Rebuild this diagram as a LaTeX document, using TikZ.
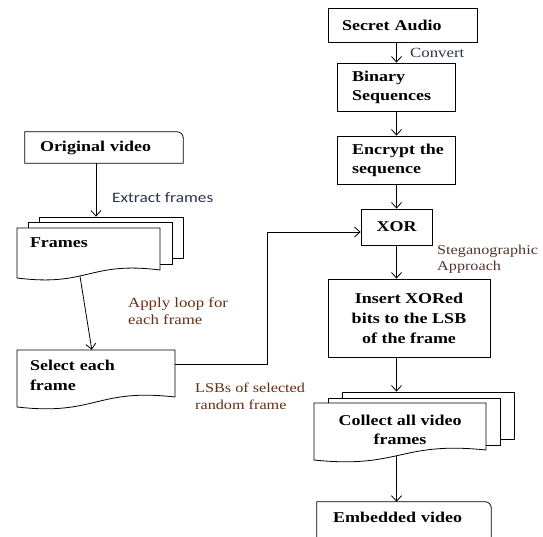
\documentclass[tikz,border=0pt]{standalone}
\usepackage{fontspec}
\setmainfont{Liberation Serif}[FakeStretch=1.2]
\newfontfamily\calib{Carlito}[FakeStretch=1.2]
\usetikzlibrary{arrows.meta}
\definecolor{lblbrown}{RGB}{105,45,20}
\definecolor{lblnavy}{RGB}{45,52,80}
\definecolor{stegc}{RGB}{85,50,45}
\newcommand\docsheet[5]{\draw[line,fill=white] (#1,#2) -- (#3,#2) -- (#3,#4) .. controls ({(#1+#3)/2},{#4-9}) and ({(#1+#3)/2},{#5+9}) .. (#1,#5) -- cycle;}
\begin{document}
\begin{tikzpicture}[x=1pt,y=-1pt,
  line/.style={draw=black,line width=0.8pt},
  arr/.style={line,-{Straight Barb[length=5.5pt,width=10pt]}},
  bx/.style={line,inner ysep=0pt,font=\fontsize{15}{19}\selectfont\bfseries},
  tx/.style={inner ysep=0pt,font=\fontsize{15}{19}\selectfont\bfseries},
  sheet/.style={line,fill=white,inner sep=0pt},
  lbl/.style={anchor=base west,inner sep=0pt,align=left,font=\fontsize{14}{16.5}\selectfont},
]
\useasboundingbox (0,0) rectangle (543,537);
\fill[white] (0,0) rectangle (543,537);

% ---- right column ----
\node[bx,minimum width=149,minimum height=34,inner xsep=14,text width=121,align=left] (sa) at (402.5,25) {Secret Audio};
\node[bx,minimum width=118,minimum height=48,inner xsep=15,text width=88,align=left] (bs) at (396,87) {Binary\\Sequences};
\node[bx,minimum width=118,minimum height=48,inner xsep=15,text width=88,align=left] (enc) at (396,160) {Encrypt~the\\sequence};
\node[bx,minimum width=71,minimum height=36,align=center] (xor) at (396.5,227) {XOR};
\node[bx,minimum width=162,minimum height=78,align=center,font=\fontsize{15}{20}\selectfont\bfseries] (ins) at (409,318) {Insert XORed\\bits to the LSB\\of the frame};

% collect stack
\node[sheet,minimum width=172,minimum height=47] (colb) at (428,415.5) {};
\node[sheet,minimum width=172,minimum height=47] (colm) at (414,421.5) {};
\docsheet{314}{403}{486}{450}{460}
\node[tx,minimum width=172,minimum height=52,align=center] (col) at (400,429.5) {Collect all video\\frames};

% embedded
\node[tx,minimum width=174,minimum height=30,inner xsep=16,text width=142,align=left] (emb) at (404,517) {Embedded video};
\draw[line] (emb.south west) ++(0,30) -- (emb.north west) -- ([xshift=-6]emb.north east) arc[start angle=-90,end angle=0,radius=6] -- ++(0,60);

% ---- left column ----
\node[tx,minimum width=158,minimum height=31,inner xsep=15,text width=128,align=left] (ov) at (104,147.5) {Original video};
\draw[line] (ov.south west) -- (ov.north west) -- ([xshift=-6]ov.north east) arc[start angle=-90,end angle=0,radius=6] -- (ov.south east) -- cycle;

\node[sheet,minimum width=144,minimum height=41] (fr3) at (111,237.5) {};
\node[sheet,minimum width=144,minimum height=42] (fr2) at (100,243) {};
\docsheet{17}{228}{160}{270}{278}
\node[tx,minimum width=143,minimum height=30,inner xsep=13,text width=117,align=left] (fr) at (88.5,243) {Frames};

\docsheet{17}{350}{175}{397}{407}
\node[tx,minimum width=158,minimum height=50,inner xsep=13,text width=132,align=left,font=\fontsize{15}{20}\selectfont\bfseries] (sel) at (96,375) {Select each\\frame};

% ---- connectors ----
\draw[arr] (sa.south -| xor.north) -- (bs.north -| xor.north);
\draw[arr] (bs.south -| xor.north) -- (enc.north -| xor.north);
\draw[arr] (enc.south -| xor.north) -- (xor.north);
\draw[arr] (xor.south) -- (xor.south |- ins.north);
\draw[arr] (xor.south |- ins.south) -- (xor.south |- colb.north);
\draw[arr] (xor.south |- col.south) -- (xor.south |- emb.north);

\draw[arr] ([xshift=-8]ov.south) -- ([xshift=-8]ov.south |- fr3.north);
\draw[arr] ([shift={(-8.5,18)}]fr.south) -- ([xshift=75]sel.north west);
\draw[arr] ([yshift=11]sel.east) -| ([xshift=-93,yshift=-5]xor.west) -- ([yshift=-5]xor.west);

% ---- labels ----
\node[lbl,text=lblnavy] (lconv) at (410,58) {Convert};
\node[lbl,text=lblnavy,font=\calib\fontsize{14.4}{17}\selectfont] (lext) at (112,203) {Extract frames};
\node[lbl,text=lblbrown,font=\fontsize{14}{17}\selectfont] (lapp) at (128,324) {Apply loop for\\each frame};
\node[lbl,text=lblbrown,font=\fontsize{13.5}{17}\selectfont] (llsb) at (195,409) {LSBs of selected\\random frame};
\node[lbl,text=stegc,font=\fontsize{13.5}{16}\selectfont] (lsteg) at (437,270) {Steganographic\\Approach};
\end{tikzpicture}
\end{document}
